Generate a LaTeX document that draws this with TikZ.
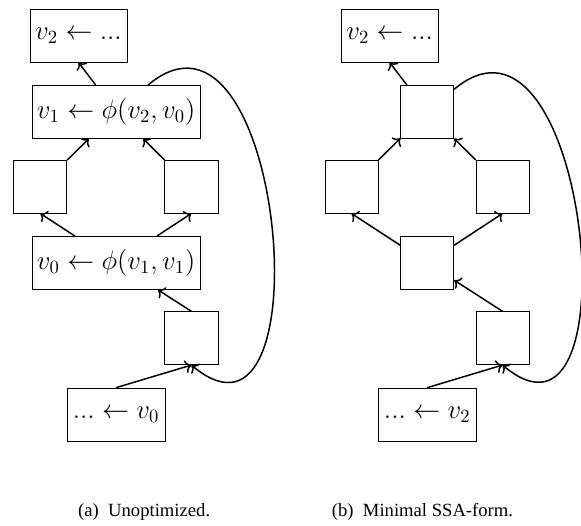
\documentclass[tikz,border=0pt]{standalone}
\usepackage{fontspec}
\setmainfont{Liberation Serif}
\usepackage{tikz}
\usetikzlibrary{arrows.meta}

\begin{document}
\begin{tikzpicture}[
  n/.style={rectangle,draw,minimum width=1cm,minimum height=1cm,inner sep=0pt,font=\Large},
  a/.style={->,thick},
  subcap/.style={anchor=base,font=\normalsize}
]
\useasboundingbox (0,0) rectangle (10.96,9.91);
% (a) unoptimized
\node[n,minimum width=1.83cm] (defa) at (1.48,9.24) {$v_2 \leftarrow ...$};
\node[n,minimum width=3.17cm] (phia) at (2.19,7.80) {$v_1 \leftarrow \phi(v_2, v_0)$};
\node[n] (lfta) at (0.76,6.39) {};
\node[n] (rgta) at (3.61,6.39) {};
\node[n,minimum width=3.17cm] (mida) at (2.19,4.95) {$v_0 \leftarrow \phi(v_1, v_1)$};
\node[n] (prea) at (3.61,3.53) {};
\node[n,minimum width=1.85cm] (usea) at (2.19,2.09) {$... \leftarrow v_0$};
\draw[a] (phia) -- (defa.south);
\draw[a] (lfta) -- (phia);
\draw[a] (rgta) -- (phia);
\draw[a] (mida) -- (lfta.south);
\draw[a] (mida) -- (rgta.south);
\draw[a] (prea.north) -- (mida);
\draw[a] (usea.north) -- (prea.south);
\draw[a] (phia) to[out=40,in=-40,looseness=1.6] (prea.south);
% (b) minimal SSA
\node[n,minimum width=1.83cm] (defb) at (7.35,9.24) {$v_2 \leftarrow ...$};
\node[n] (topb) at (8.06,7.80) {};
\node[n] (lftb) at (6.63,6.39) {};
\node[n] (rgtb) at (9.48,6.39) {};
\node[n] (midb) at (8.06,4.95) {};
\node[n] (preb) at (9.48,3.53) {};
\node[n,minimum width=1.85cm] (useb) at (8.06,2.09) {$... \leftarrow v_2$};
\draw[a] (topb) -- (defb.south);
\draw[a] (lftb) -- (topb);
\draw[a] (rgtb) -- (topb);
\draw[a] (midb) -- (lftb.south);
\draw[a] (midb) -- (rgtb.south);
\draw[a] (preb.north) -- (midb);
\draw[a] (useb.north) -- (preb.south);
\draw[a] (topb) to[out=40,in=-40,looseness=1.6] (preb.south);
% captions
\node[subcap] (capa) at (2.72,0.17) {(a)\ \ Unoptimized.};
\node[subcap] (capb) at (7.97,0.17) {(b)\ \ Minimal SSA-form.};
\end{tikzpicture}
\end{document}
